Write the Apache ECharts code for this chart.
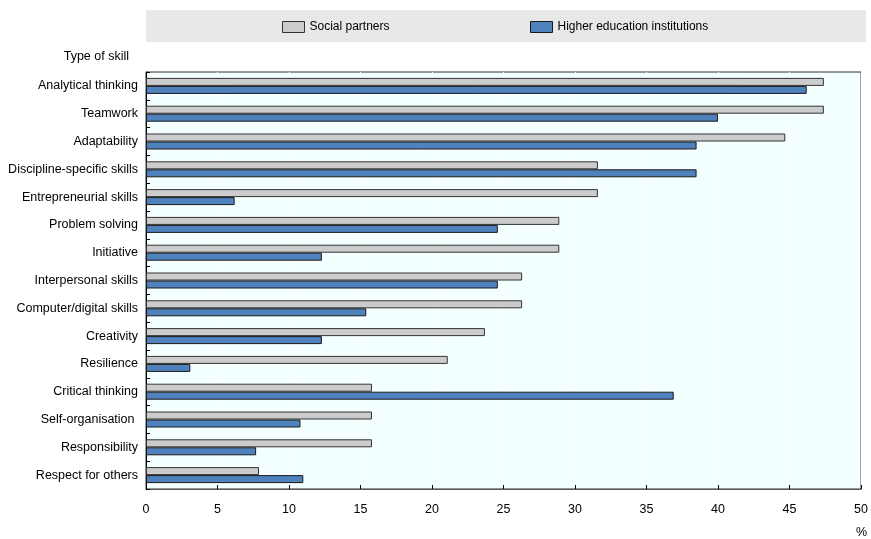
<!DOCTYPE html>
<html>
<head>
<meta charset="utf-8">
<script src="https://cdn.jsdelivr.net/npm/echarts@6/dist/echarts.min.js"></script>
<style>
html,body{margin:0;padding:0;background:#fff;}
#chart{width:871px;height:539px;}
</style>
</head>
<body>
<div id="chart"></div>
<script>
var categories = ["Analytical thinking","Teamwork","Adaptability","Discipline-specific skills","Entrepreneurial skills","Problem solving","Initiative","Interpersonal skills","Computer/digital skills","Creativity","Resilience","Critical thinking","Self-organisation ","Responsibility","Respect for others"];
var socialPartners = [47.4,47.4,44.7,31.6,31.6,28.9,28.9,26.3,26.3,23.7,21.1,15.8,15.8,15.8,7.9];
var higherEducation = [46.2,40.0,38.5,38.5,6.2,24.6,12.3,24.6,15.4,12.3,3.1,36.9,10.8,7.7,11.0];
var seriesNames = ["Social partners","Higher education institutions"];
var xTicks = {min:0,max:50,interval:5};

var FONT = "'Liberation Sans Narrow','Arial Narrow','Liberation Sans',Arial,sans-serif";
var chart = echarts.init(document.getElementById('chart'));
chart.setOption({
  backgroundColor:'#ffffff',
  animation:false,
  graphic:[
    {type:'rect',shape:{x:146,y:10,width:720,height:32},style:{fill:'#e8e8e8'},z:0},
    {type:'text',x:129,y:57,style:{text:'Type of skill',font:'12.5px '+FONT,fill:'#000',textAlign:'right',textVerticalAlign:'middle'}},
    {type:'text',x:867,y:533,style:{text:'%',font:'12.5px '+FONT,fill:'#000',textAlign:'right',textVerticalAlign:'middle'}}
  ],
  legend:[
    {data:[seriesNames[0]],left:277,top:16,icon:'rect',itemWidth:22,itemHeight:11,itemGap:6,
     itemStyle:{borderColor:'#333',borderWidth:1},
     textStyle:{fontFamily:FONT,fontSize:12,color:'#000'}},
    {data:[seriesNames[1]],left:525,top:16,icon:'rect',itemWidth:22,itemHeight:11,itemGap:6,
     itemStyle:{borderColor:'#1a1a1a',borderWidth:1},
     textStyle:{fontFamily:FONT,fontSize:12,color:'#000'}}
  ],
  grid:{left:146,right:7,top:72,bottom:50,show:true,backgroundColor:'#f4ffff',borderColor:'#333',borderWidth:1},
  xAxis:{type:'value',min:xTicks.min,max:xTicks.max,interval:xTicks.interval,
    axisLine:{show:true,lineStyle:{color:'#555',width:1}},
    axisTick:{show:true,inside:true,length:4,lineStyle:{color:'#000'}},
    splitLine:{show:true,lineStyle:{color:'#ffffff',width:1}},
    axisLabel:{color:'#000',fontFamily:FONT,fontSize:12.5,margin:14}},
  yAxis:{type:'category',data:categories,inverse:true,
    axisLine:{show:true,lineStyle:{color:'#000',width:1}},
    axisTick:{show:true,inside:true,length:4,lineStyle:{color:'#000'}},
    axisLabel:{color:'#000',fontFamily:FONT,fontSize:12.5,margin:8}},
  series:[
    {name:seriesNames[0],type:'bar',data:socialPartners,barWidth:8,barGap:'0%',
     itemStyle:{color:'#cccccc',borderColor:'#333',borderWidth:1}},
    {name:seriesNames[1],type:'bar',data:higherEducation,barWidth:8,barGap:'0%',
     itemStyle:{color:'#4f81bd',borderColor:'#1a1a1a',borderWidth:1}}
  ]
});
</script>
</body>
</html>
